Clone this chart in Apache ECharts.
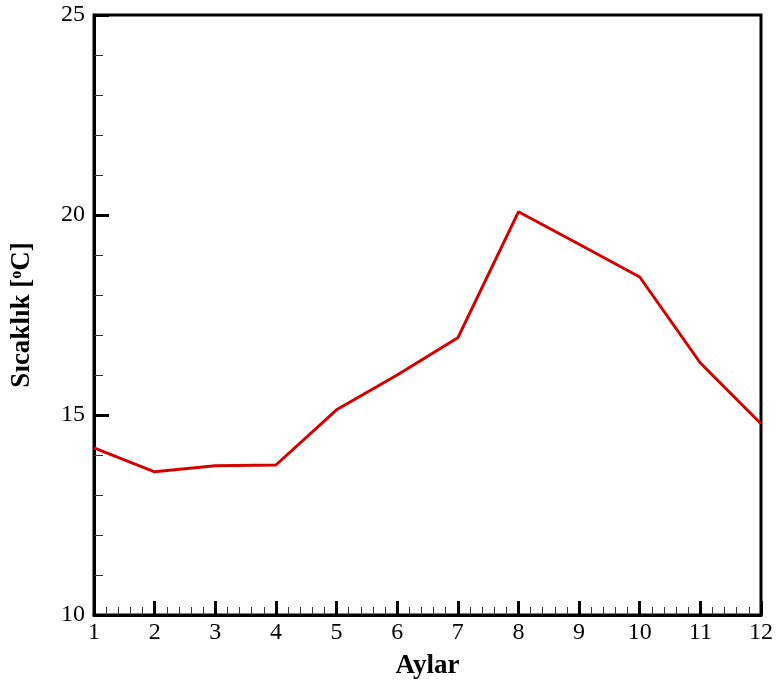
<!DOCTYPE html>
<html><head><meta charset="utf-8">
<script src="https://cdn.jsdelivr.net/npm/echarts@6/dist/echarts.min.js"></script>
<style>html,body{margin:0;padding:0;background:#fff}#c{width:776px;height:685px}</style>
</head><body><div id="c"></div>
<script>
const months = [1,2,3,4,5,6,7,8,9,10,11,12];
const temperature = [14.18, 13.58, 13.73, 13.75, 15.13, 16.0, 16.93, 20.08, 19.27, 18.45, 16.3, 14.78];
const yTicks = [10, 15, 20, 25];

const chart = echarts.init(document.getElementById('c'));
const font = 'Liberation Serif';
chart.setOption({
  animation: false,
  grid: {left: 94, right: 15, top: 15, bottom: 70, show: true, borderColor: '#000', borderWidth: 3, backgroundColor: 'transparent'},
  xAxis: {
    type: 'value', min: 1, max: 12, interval: 1,
    name: 'Aylar', nameLocation: 'middle', nameGap: 38,
    nameTextStyle: {fontFamily: font, fontWeight: 'bold', fontSize: 27, color: '#000'},
    axisLine: {show: true, onZero: false, lineStyle: {color: '#000', width: 3}},
    axisTick: {show: true, inside: true, length: 14, lineStyle: {color: '#000', width: 3}},
    minorTick: {show: true, splitNumber: 5, length: 8, lineStyle: {color: '#333', width: 1}},
    splitLine: {show: false},
    axisLabel: {fontFamily: font, fontSize: 24, color: '#000', margin: 6}
  },
  yAxis: {
    type: 'value', min: yTicks[0], max: yTicks[yTicks.length-1], interval: 5,
    name: '{b|Sıcaklık [}{s|o}{b|C]}', nameLocation: 'middle', nameGap: 58,
    nameTextStyle: {rich: {
      b: {fontFamily: font, fontWeight: 'bold', fontSize: 27, color: '#000'},
      s: {fontFamily: font, fontWeight: 'bold', fontSize: 16, color: '#000', padding: [0,0,11,0]}
    }},
    axisLine: {show: true, onZero: false, lineStyle: {color: '#000', width: 3}},
    axisTick: {show: true, inside: true, length: 15, lineStyle: {color: '#000', width: 3}},
    minorTick: {show: true, splitNumber: 5, length: 9, lineStyle: {color: '#333', width: 1}},
    splitLine: {show: false},
    axisLabel: {fontFamily: font, fontSize: 24, color: '#000', margin: 9}
  },
  series: [{
    type: 'line',
    data: months.map((m, i) => [m, temperature[i]]),
    symbol: 'none',
    lineStyle: {color: '#d40000', width: 3},
    clip: true
  }]
});
</script></body></html>
